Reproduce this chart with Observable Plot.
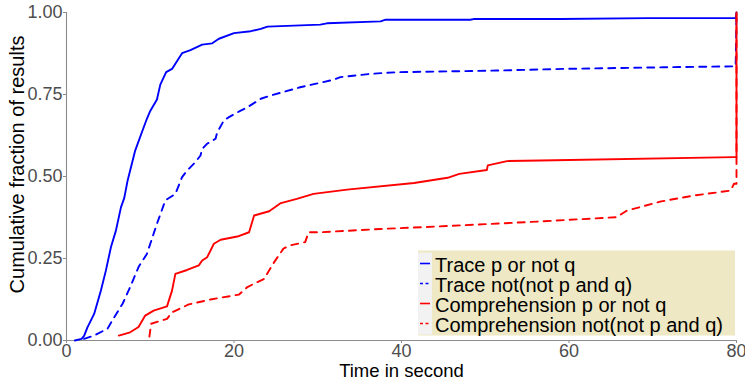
<!DOCTYPE html>
<html><head><meta charset="utf-8">
<script src="https://cdn.jsdelivr.net/npm/d3@7"></script>
<script src="https://cdn.jsdelivr.net/npm/@observablehq/plot@0.6"></script>
<style>body{margin:0;background:#fff} #chart{width:745px;height:385px}</style>
</head><body><div id="chart"></div>
<script>
const seriesNames = ["Trace p or not q", "Trace not(not p and q)", "Comprehension p or not q", "Comprehension not(not p and q)"];

const tracePX = [1.0, 1.8, 2.1, 2.5, 3.3, 4.1, 4.7, 5.3, 5.9, 6.5, 6.9, 7.3, 8.2, 9.0, 9.6, 10.0, 10.8, 11.2, 11.9, 12.6, 13.8, 14.8, 16.2, 17.4, 18.2, 20.0, 22.0, 23.2, 24.0, 30.3, 31.1, 37.5, 38.1, 48.2, 48.6, 59.0, 69.5, 79.9, 80];
const tracePY = [0.0, 0.005, 0.014, 0.04, 0.081, 0.152, 0.213, 0.284, 0.335, 0.406, 0.435, 0.488, 0.579, 0.635, 0.676, 0.70, 0.735, 0.78, 0.818, 0.828, 0.876, 0.885, 0.902, 0.906, 0.92, 0.937, 0.943, 0.95, 0.957, 0.963, 0.967, 0.973, 0.978, 0.978, 0.98, 0.98, 0.983, 0.983, 1.0];

const traceNotX = [2.1, 3.3, 4.9, 5.7, 6.7, 7.6, 8.6, 9.6, 10.8, 11.8, 13.0, 13.8, 14.4, 15.4, 16.0, 16.2, 16.8, 17.8, 18.0, 18.8, 19.4, 20.8, 21.6, 23.2, 24.4, 25.8, 27.9, 31.9, 32.7, 36.3, 39.5, 51.4, 59.3, 71.3, 79.9, 80];
const traceNotY = [0.005, 0.015, 0.036, 0.071, 0.112, 0.163, 0.224, 0.264, 0.356, 0.427, 0.447, 0.498, 0.518, 0.544, 0.564, 0.584, 0.60, 0.615, 0.635, 0.671, 0.681, 0.701, 0.711, 0.737, 0.747, 0.757, 0.772, 0.795, 0.803, 0.813, 0.818, 0.823, 0.828, 0.833, 0.836, 1.0];

const compPX = [6.25, 7.6, 8.6, 9.4, 10.4, 12.0, 12.6, 13.0, 14.4, 15.8, 16.2, 16.8, 17.6, 18.4, 20.4, 21.8, 22.4, 24.2, 25.6, 27.5, 29.5, 33.5, 41.5, 45.5, 46.9, 50.2, 50.3, 52.6, 56.6, 79.7, 80, 80];
const compPY = [0.015, 0.025, 0.041, 0.076, 0.091, 0.104, 0.152, 0.203, 0.215, 0.229, 0.244, 0.254, 0.295, 0.307, 0.317, 0.33, 0.381, 0.394, 0.419, 0.432, 0.447, 0.46, 0.48, 0.496, 0.508, 0.52, 0.534, 0.547, 0.549, 0.559, 0.559, 1.0];

const compNotX = [9.9, 10.1, 12.0, 12.6, 14.6, 17.2, 20.6, 21.6, 23.6, 24.8, 25.9, 26.7, 28.5, 28.9, 30.3, 37.5, 45.5, 56.6, 65.7, 66.9, 71.0, 74.9, 79.3, 79.7, 80, 80];
const compNotY = [0.012, 0.051, 0.066, 0.086, 0.11, 0.125, 0.14, 0.163, 0.188, 0.239, 0.28, 0.29, 0.3, 0.33, 0.33, 0.34, 0.349, 0.363, 0.376, 0.396, 0.424, 0.442, 0.457, 0.478, 0.478, 1.0];

const xTicks = [0, 20, 40, 60, 80];
const yTicks = [0, 0.25, 0.5, 0.75, 1];
const xTitle = "Time in second";
const yTitle = "Cumulative fraction of results";

const seriesX = [tracePX, traceNotX, compPX, compNotX];
const seriesY = [tracePY, traceNotY, compPY, compNotY];
const rows = seriesNames.flatMap((name, i) => seriesX[i].map((x, j) => ({series: name, x, y: seriesY[i][j]})));

const colors = ["#0000ff", "#0000ff", "#ff0000", "#ff0000"];
const dashes = [null, "7,6", null, "7,6"];
const keyDashes = [null, "3,2.5", null, "3,2.5"];
const drawOrder = [0, 1, 3, 2];
const FONT = "'Liberation Sans', Arial, Helvetica, sans-serif";

const plot = Plot.plot({
  width: 745, height: 385,
  marginLeft: 66, marginRight: 9, marginTop: 12, marginBottom: 45,
  style: {fontFamily: FONT, background: "#fff", overflow: "visible"},
  x: {domain: [0, 80]},
  y: {domain: [0, 1]},
  color: {domain: seriesNames, range: colors},
  marks: [
    Plot.ruleX([0], {stroke: "#8c8c8c", strokeWidth: 1.1}),
    Plot.ruleY([0], {stroke: "#8c8c8c", strokeWidth: 1.1}),
    Plot.axisX({ticks: xTicks, tickSize: 3, tickPadding: 1, fontSize: 18, color: "#4d4d4d", label: null}),
    Plot.axisY({ticks: yTicks, tickSize: 3, tickPadding: 1, fontSize: 18, color: "#4d4d4d", label: null, tickFormat: d3.format(".2f")}),
    ...drawOrder.map(i => Plot.line(rows.filter(d => d.series === seriesNames[i]), {
      x: "x", y: "y", stroke: "series", strokeWidth: 1.9,
      ...(dashes[i] ? {strokeDasharray: dashes[i]} : {})
    })),
    Plot.text([xTitle], {frameAnchor: "bottom", lineAnchor: "top", textAnchor: "middle", dy: 23, fontSize: 18.5, fill: "#000"}),
    Plot.text([yTitle], {frameAnchor: "left", textAnchor: "middle", lineAnchor: "middle", rotate: -90, dx: -49, dy: -12, fontSize: 20, fill: "#000"})
  ]
});

document.getElementById("chart").appendChild(plot);

// axis tick strokes grey
d3.select(plot).selectAll('g[aria-label="x-axis tick"], g[aria-label="y-axis tick"]').attr("stroke", "#8c8c8c");

// legend inside the panel (bottom-right)
const sx = plot.scale("x"), sy = plot.scale("y");
const lgRight = sx.apply(80) - 1;
const lgBottom = sy.apply(0) - 4.5;
const boxW = 317, rowH = 20, boxH = rowH * seriesNames.length + 5;
const lgLeft = lgRight - boxW, lgTop = lgBottom - boxH;
const lg = d3.select(plot).append("g").attr("font-family", FONT).attr("text-anchor", "start");
lg.append("rect").attr("x", lgLeft).attr("y", lgTop).attr("width", boxW).attr("height", boxH).attr("fill", "#eee8c4");
lg.append("rect").attr("x", lgLeft).attr("y", lgTop + 2).attr("width", 14).attr("height", boxH - 3).attr("fill", "#f2f2f2");
seriesNames.forEach((name, i) => {
  const cy = lgTop + 13 + i * rowH;
  const ln = lg.append("line").attr("x1", lgLeft + 2).attr("x2", lgLeft + 12).attr("y1", cy).attr("y2", cy)
    .attr("stroke", colors[i]).attr("stroke-width", 1.6);
  if (keyDashes[i]) ln.attr("stroke-dasharray", keyDashes[i]);
  lg.append("text").attr("x", lgLeft + 17).attr("y", cy + 1).attr("dominant-baseline", "central")
    .attr("text-anchor", "start").attr("font-size", 20).attr("fill", "#000").text(name);
});
</script>
</body></html>
